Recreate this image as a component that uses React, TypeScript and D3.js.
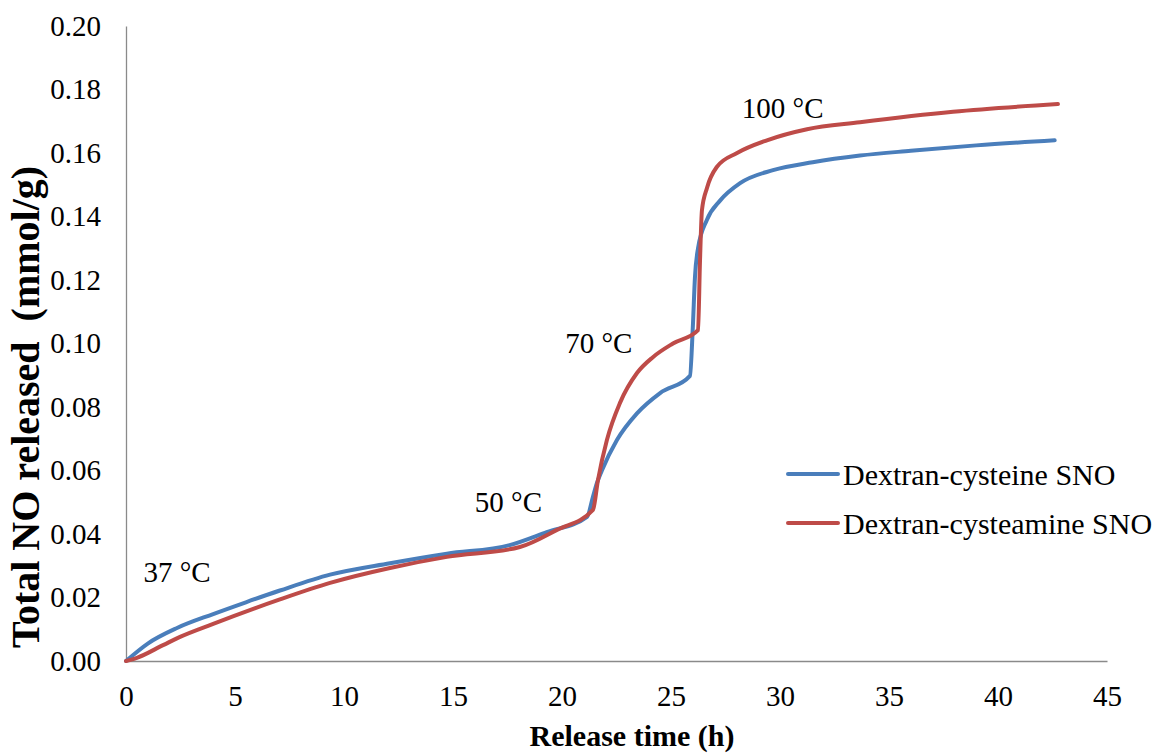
import React, { useEffect, useRef } from 'react';
import * as d3 from 'd3';

// Dextran-cysteine SNO (blue)
const cysteineTime = [0, 1.0, 2.34, 4.0, 5.5, 7.06, 9.36, 12.11, 14.72, 17.6, 19.3, 21.15, 21.42, 21.6, 21.83, 22.52, 23.44, 24.5, 25.87, 26.0, 26.1, 26.24, 26.65, 27.25, 28.17, 29.68, 31.5, 33.67, 36.0, 39.0, 42.6];
const cysteineNO = [0, 0.0055, 0.0104, 0.0148, 0.0185, 0.0222, 0.0272, 0.0308, 0.0338, 0.0365, 0.0406, 0.0454, 0.0517, 0.056, 0.06, 0.0696, 0.078, 0.0844, 0.0898, 0.105, 0.121, 0.13, 0.139, 0.145, 0.1505, 0.1546, 0.1571, 0.1592, 0.1607, 0.1624, 0.164];

// Dextran-cysteamine SNO (red)
const cysteamineTime = [0, 0.5, 1.7, 2.48, 4.0, 7.06, 9.36, 12.11, 14.72, 18.07, 19.77, 21.42, 21.65, 22.06, 22.66, 23.44, 24.17, 25.09, 26.24, 26.33, 26.42, 26.65, 27.1, 28.03, 29.4, 31.24, 33.67, 37.94, 42.75];
const cysteamineNO = [0, 0.001, 0.005, 0.0076, 0.0117, 0.0194, 0.0246, 0.0293, 0.0328, 0.0359, 0.0413, 0.0476, 0.057, 0.0696, 0.0813, 0.0907, 0.0957, 0.1, 0.1042, 0.126, 0.142, 0.149, 0.1556, 0.16, 0.164, 0.1675, 0.1697, 0.173, 0.1754];

const xTicks = [0, 5, 10, 15, 20, 25, 30, 35, 40, 45];
const yTicks = [0, 0.02, 0.04, 0.06, 0.08, 0.1, 0.12, 0.14, 0.16, 0.18, 0.2];

const seriesNames = ['Dextran-cysteine SNO', 'Dextran-cysteamine SNO'];
const seriesColors = ['#4a7ebb', '#be4b48'];

const annotations = [
  { t: 0.8, v: 0.025, label: '37 °C' },
  { t: 16.0, v: 0.047, label: '50 °C' },
  { t: 20.15, v: 0.097, label: '70 °C' },
  { t: 28.25, v: 0.171, label: '100 °C' },
];

const FONT = '"Liberation Serif", "Times New Roman", serif';

const App: React.FC = () => {
  const svgRef = useRef<SVGSVGElement>(null);
  const width = 1156;
  const height = 755;

  useEffect(() => {
    document.body.style.margin = '0';
    if (!svgRef.current) return;
    const svg = d3.select(svgRef.current);
    svg.selectAll('*').remove();

    const x = d3.scaleLinear().domain([0, 45]).range([126, 1107]);
    const y = d3.scaleLinear().domain([0, 0.2]).range([661, 26]);

    // x axis
    const gx = svg.append('g')
      .attr('transform', `translate(0,${y(0)})`)
      .call(d3.axisBottom(x).tickValues(xTicks).tickSize(0).tickSizeOuter(0).tickPadding(24).tickFormat(d3.format('d')));
    gx.select('.domain').attr('stroke', '#8a8a8a').attr('stroke-width', 1.3);
    gx.selectAll('text').attr('font-family', FONT).attr('font-size', 29).attr('fill', '#000');

    // y axis
    const gy = svg.append('g')
      .attr('transform', `translate(${x(0)},0)`)
      .call(d3.axisLeft(y).tickValues(yTicks).tickSize(0).tickSizeOuter(0).tickPadding(25).tickFormat(d3.format('.2f')));
    gy.select('.domain').attr('stroke', '#8a8a8a').attr('stroke-width', 1.3);
    gy.selectAll('text').attr('font-family', FONT).attr('font-size', 29).attr('fill', '#000');

    // lines
    const line = d3.line<[number, number]>()
      .x(d => x(d[0]))
      .y(d => y(d[1]))
      .curve(d3.curveMonotoneX);

    const series: [number, number][][] = [
      cysteineTime.map((t, i) => [t, cysteineNO[i]]),
      cysteamineTime.map((t, i) => [t, cysteamineNO[i]]),
    ];

    series.forEach((s, i) => {
      svg.append('path')
        .datum(s)
        .attr('fill', 'none')
        .attr('stroke', seriesColors[i])
        .attr('stroke-width', 4)
        .attr('stroke-linejoin', 'round')
        .attr('stroke-linecap', 'round')
        .attr('d', line);
    });

    // temperature labels
    svg.selectAll('.anno')
      .data(annotations)
      .enter()
      .append('text')
      .attr('class', 'anno')
      .attr('x', d => x(d.t))
      .attr('y', d => y(d.v))
      .attr('font-family', FONT)
      .attr('font-size', 29)
      .text(d => d.label);

    // legend
    const legend = svg.append('g').attr('transform', 'translate(788,474)');
    seriesNames.forEach((name, i) => {
      const row = legend.append('g').attr('transform', `translate(0,${i * 49})`);
      row.append('line')
        .attr('x1', 0).attr('x2', 50).attr('y1', 0).attr('y2', 0)
        .attr('stroke', seriesColors[i])
        .attr('stroke-width', 4)
        .attr('stroke-linecap', 'round');
      row.append('text')
        .attr('x', 55)
        .attr('y', 0)
        .attr('dy', '0.35em')
        .attr('font-family', FONT)
        .attr('font-size', 30)
        .text(name);
    });

    // axis titles
    svg.append('text')
      .attr('x', 632)
      .attr('y', 746)
      .attr('text-anchor', 'middle')
      .attr('font-family', FONT)
      .attr('font-weight', 'bold')
      .attr('font-size', 30)
      .text('Release time (h)');

    svg.append('text')
      .attr('transform', 'translate(39,407) rotate(-90)')
      .attr('text-anchor', 'middle')
      .attr('font-family', FONT)
      .attr('font-weight', 'bold')
      .attr('font-size', 40)
      .style('white-space', 'pre')
      .text('Total NO released  (mmol/g)');
  }, []);

  return <svg ref={svgRef} width={width} height={height} style={{ display: 'block', background: '#fff' }} />;
};

export default App;
